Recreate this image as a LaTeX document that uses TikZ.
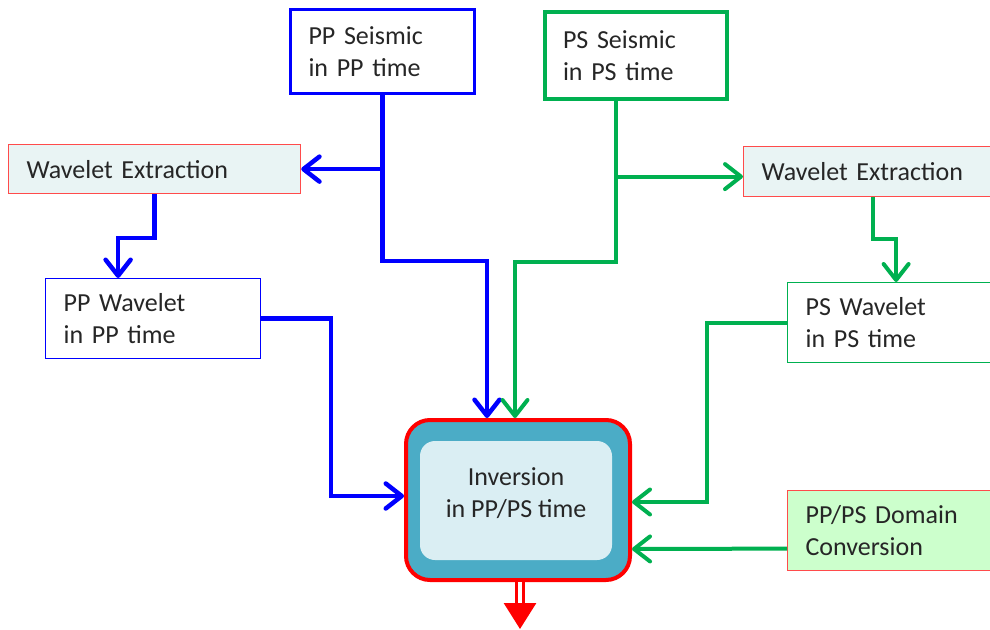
\documentclass[tikz,border=0pt]{standalone}
\usepackage{fontspec}
\setmainfont{Carlito}
\usetikzlibrary{arrows.meta,positioning,calc}
\definecolor{InvBlue}{HTML}{0000FF}
\definecolor{InvGreen}{HTML}{00B050}
\definecolor{InvRed}{HTML}{FF0000}
\definecolor{InvPink}{HTML}{FF4B4B}
\definecolor{InvTeal}{HTML}{4BACC6}
\definecolor{InvPale}{HTML}{DAEEF3}
\definecolor{InvMint}{HTML}{E9F4F4}
\definecolor{InvLime}{HTML}{CCFFCC}
\definecolor{InvText}{HTML}{262626}
\tikzset{
  databox/.style={rectangle, anchor=north west, inner xsep=18pt, align=left,
                  font=\fontsize{26}{32}\selectfont\color{InvText}},
  ppbox/.style={databox, draw=InvBlue, fill=white, line width=1.2pt},
  psbox/.style={databox, draw=InvGreen, fill=white, line width=1.2pt},
  procbox/.style={databox, draw=InvPink, line width=1.2pt},
  tip/.style={-{Straight Barb[length=16pt,width=25pt,round]}},
  ppline/.style={tip, draw=InvBlue, line width=4.5pt},
  psline/.style={tip, draw=InvGreen, line width=4pt},
  outarrow/.style={draw=InvRed, line width=3pt, double=white, double distance=3.5pt,
                   -{Triangle[length=26pt,width=32pt]}},
}

\begin{document}
\begin{tikzpicture}[x=1pt, y=-1pt]
  \useasboundingbox (0,0) rectangle (990,629);

  % seismic inputs
  \node[ppbox, line width=3pt, text width=148pt, minimum height=84pt] (ppseis) at (289,8)
        {PP Seismic\\in PP time};
  \node[psbox, line width=4pt, text width=146pt, minimum height=87pt] (psseis) at (543,10)
        {PS Seismic\\in PS time};

  % wavelet extraction
  \node[procbox, fill=InvMint, text width=256pt, minimum height=49pt] (wel) at (8,144)
        {Wavelet Extraction};
  \node[procbox, fill=InvMint, text width=216pt, minimum height=50pt] (wer) at (743,146)
        {Wavelet Extraction};

  % wavelets and domain conversion
  \node[ppbox, text width=179pt, minimum height=80pt] (ppwav) at (45,278)
        {PP Wavelet\\in PP time};
  \node[psbox, text width=168pt, minimum height=80pt] (pswav) at (787,282)
        {PS Wavelet\\in PS time};
  \node[procbox, fill=InvLime, text width=168pt, minimum height=80pt] (dom) at (787,490)
        {PP/PS Domain\\Conversion};

  % inversion
  \node[rectangle, anchor=north west, draw=InvRed, fill=InvTeal, line width=4pt,
        rounded corners=24pt, minimum width=224pt, minimum height=160pt] (inv) at (404,418) {};
  \fill[InvPale, rounded corners=15pt] (420,441) rectangle (612,560);
  \node[align=center, font=\fontsize{26}{32}\selectfont\color{InvText}]
        (invtxt) at (516,493) {Inversion\\in PP/PS time};
  \coordinate (out) at (520,629);

  % PP branch
  \draw[ppline] (ppseis.south) -- ++(0,166) -| ([xshift=-31pt]inv.north);
  \draw[ppline] (ppseis.south |- wel.east) -- (wel.east);
  \draw[ppline] (wel.south) -- ++(0,44) -| ([xshift=-35pt]ppwav.north);
  \draw[ppline] (ppwav.east) -- ++(70,0) |- ([yshift=4pt]inv.west);

  % PS branch
  \draw[psline] ([xshift=-20pt]psseis.south) -- ++(0,161) -| ([xshift=-3pt]inv.north);
  \draw[psline] ([xshift=-20pt]psseis.south) |- ([yshift=-5pt]wer.west);
  \draw[psline] ([xshift=3pt]wer.south) -- ++(0,42) -| ([xshift=6.5pt]pswav.north);
  \draw[psline] (pswav.west) -- ++(-80,0) |- ([yshift=-2pt]inv.east);
  \draw[psline] ([yshift=-18pt]dom.west) -- ([yshift=-49pt]inv.east);

  \draw[outarrow] (inv.south -| out) -- (out);
\end{tikzpicture}
\end{document}
